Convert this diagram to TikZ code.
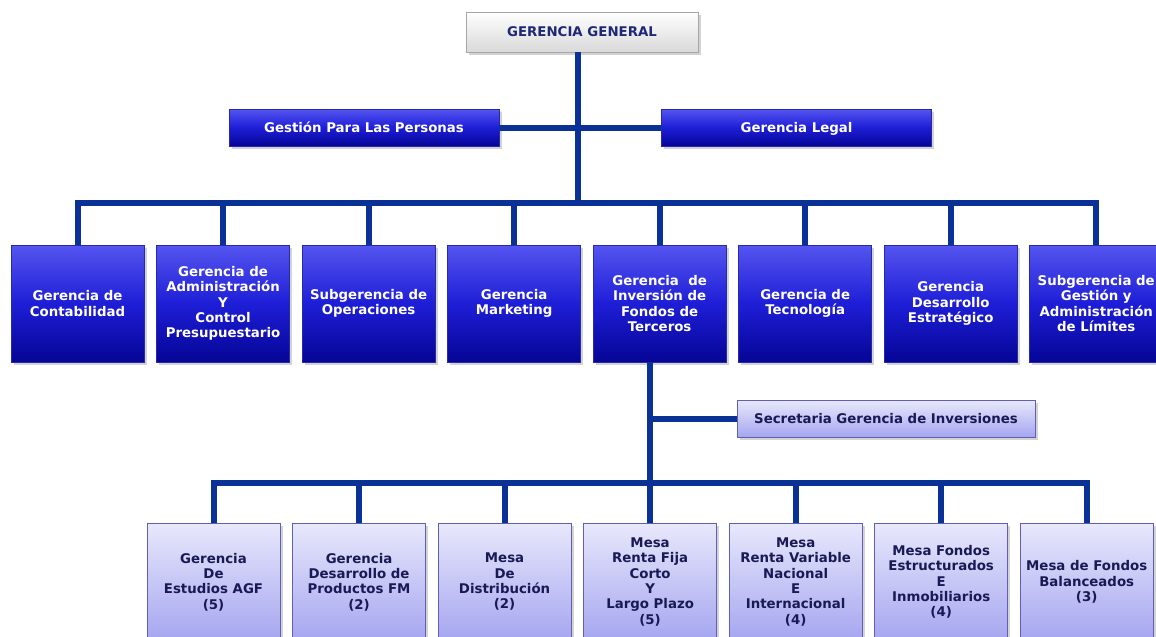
\documentclass[tikz,border=0pt]{standalone}
\usepackage{fontspec}
\setmainfont{DejaVu Sans}
\usetikzlibrary{positioning,shadows}

\definecolor{busblue}{RGB}{10,50,150}
\definecolor{deptlight}{RGB}{85,85,240}
\definecolor{deptmid}{RGB}{30,30,215}
\definecolor{deptdark}{RGB}{5,5,150}
\definecolor{deptborder}{RGB}{40,40,170}
\definecolor{mesalight}{RGB}{232,232,252}
\definecolor{mesadark}{RGB}{165,165,240}
\definecolor{mesaborder}{RGB}{95,95,185}
\definecolor{mesatext}{RGB}{25,25,85}
\definecolor{ggtext}{RGB}{30,40,120}

\begin{document}
\begin{tikzpicture}[x=0.75pt,y=-0.75pt,
  font=\fontsize{10}{11.5}\selectfont\bfseries,
  bus/.style={draw=busblue,line width=4.5pt,line join=miter},
  shade box/.style={drop shadow={shadow xshift=2pt,shadow yshift=-2pt,opacity=0.35},
    align=center,inner sep=1pt},
  one line/.style={text height=1.6ex,text depth=0.3ex},
  blue fill/.style={draw=deptborder,top color=deptlight,bottom color=deptdark,
    middle color=deptmid,text=white},
  gg node/.style={shade box,one line,draw=gray!70,top color=white,bottom color=gray!30,
    text=ggtext,minimum width=174pt,minimum height=30pt},
  staff node/.style={shade box,one line,blue fill,minimum width=202.5pt,minimum height=27.75pt},
  dept node/.style={shade box,blue fill,minimum width=99.75pt,minimum height=87.75pt},
  mesa node/.style={shade box,draw=mesaborder,top color=mesalight,bottom color=mesadark,
    text=mesatext,minimum width=99.75pt,minimum height=88.5pt},
  sec node/.style={mesa node,one line,minimum width=223.5pt,minimum height=27.75pt}]

  \clip (0,0) rectangle (1156,636);

  \node[gg node] (GG) at (582,32) {GERENCIA GENERAL};
  \node[staff node] (GP) at (364,127.5) {Gestión Para Las Personas};
  \node[staff node] (GL) at (796.5,127.5) {Gerencia Legal};

  \node[dept node] (C1) at (77.5,303.5) {Gerencia de\\Contabilidad};
  \node[dept node] (C2) [right=9pt of C1] {Gerencia de\\Administración\\Y\\Control\\Presupuestario};
  \node[dept node] (C3) [right=9pt of C2] {Subgerencia de\\Operaciones};
  \node[dept node] (C4) [right=9pt of C3] {Gerencia\\Marketing};
  \node[dept node] (C5) [right=9pt of C4] {Gerencia~ de\\Inversión de\\Fondos de\\Terceros};
  \node[dept node] (C6) [right=9pt of C5] {Gerencia de\\Tecnología};
  \node[dept node] (C7) [right=9pt of C6] {Gerencia\\Desarrollo\\Estratégico};
  \node[dept node] (C8) [right=9pt of C7] {Subgerencia de\\Gestión y\\Administración\\de Límites};

  \node[sec node] (SG) at (886,418.5) {Secretaria Gerencia de Inversiones};

  \node[mesa node] (B1) at (213.5,582) {Gerencia\\De\\Estudios AGF\\(5)};
  \node[mesa node] (B2) [right=9pt of B1] {Gerencia\\Desarrollo de\\Productos FM\\(2)};
  \node[mesa node] (B3) [right=9pt of B2] {Mesa\\De\\Distribución\\(2)};
  \node[mesa node] (B4) [right=9pt of B3] {Mesa\\Renta Fija\\Corto\\Y\\Largo Plazo\\(5)};
  \node[mesa node] (B5) [right=9pt of B4] {Mesa\\Renta Variable\\Nacional\\E\\Internacional\\(4)};
  \node[mesa node] (B6) [right=9pt of B5] {Mesa Fondos\\Estructurados\\E\\Inmobiliarios\\(4)};
  \node[mesa node] (B7) [right=9pt of B6] {Mesa de Fondos\\Balanceados\\(3)};

  \coordinate (TopBus) at (578,203);
  \coordinate (BotBus) at (648,483);

  % general management down to the departments
  \draw[bus] (GG.south -| TopBus) -- (TopBus);
  \draw[bus] (GP.east) -- (GL.west);
  \draw[bus] (C1.north) |- (TopBus -| C8.north) -- (C8.north);
  \foreach \i in {2,...,7}
    \draw[bus] (C\i.north) -- (C\i.north |- TopBus);

  % investment management down to the desks
  \draw[bus] (C5.south -| B4.north) -- (B4.north);
  \draw[bus] (SG.west -| B4.north) -- (SG.west);
  \draw[bus] (B1.north) |- (BotBus -| B7.north) -- (B7.north);
  \foreach \i in {2,3,5,6}
    \draw[bus] (B\i.north) -- (B\i.north |- BotBus);

\end{tikzpicture}
\end{document}
